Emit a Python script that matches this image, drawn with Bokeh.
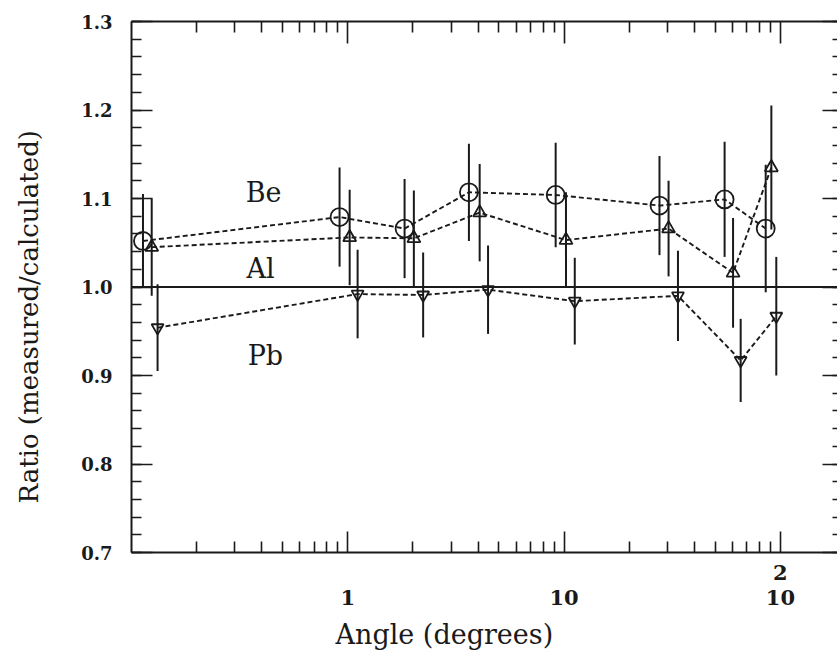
from bokeh.plotting import figure
from bokeh.models import LogAxis, LinearAxis, FixedTicker, Span, Label, Title, PrintfTickFormatter, Range1d
from bokeh.embed import file_html
from bokeh.resources import INLINE

# ---- data ----
be_x = [0.113, 0.916, 1.83, 3.63, 9.14, 27.6, 55.2, 85.5]
be_y = [1.052, 1.079, 1.066, 1.107, 1.104, 1.092, 1.099, 1.066]
be_err = [0.053, 0.056, 0.056, 0.055, 0.059, 0.056, 0.065, 0.072]

al_x = [0.124, 1.02, 2.02, 4.07, 10.2, 30.4, 60.4, 90.8]
al_y = [1.045, 1.056, 1.055, 1.084, 1.053, 1.066, 1.016, 1.135]
al_err = [0.055, 0.054, 0.054, 0.055, 0.054, 0.054, 0.062, 0.070]

pb_x = [0.132, 1.11, 2.23, 4.45, 11.2, 33.6, 65.5, 95.7]
pb_y = [0.954, 0.992, 0.991, 0.997, 0.984, 0.990, 0.917, 0.967]
pb_err = [0.049, 0.050, 0.048, 0.050, 0.049, 0.051, 0.047, 0.067]

x_major = [1, 10, 100]
x_minor = [0.2, 0.3, 0.4, 0.5, 0.6, 0.7, 0.8, 0.9,
           2, 3, 4, 5, 6, 7, 8, 9,
           20, 30, 40, 50, 60, 70, 80, 90]
# first line holds the exponent of 10^2, as in the original
x_labels = {1: " \n1", 10: " \n10", 100: "2\n10"}
y_major = [0.7, 0.8, 0.9, 1.0, 1.1, 1.2, 1.3]
y_minor = [round(0.7 + 0.02 * i, 2) for i in range(31)]

INK = "#1a1a1a"
FONT = "DejaVu Serif"

p = figure(x_axis_type="log", x_range=Range1d(0.1, 183.6), y_range=Range1d(0.7, 1.3),
           frame_width=706, frame_height=531,
           min_border_left=131, min_border_right=0, min_border_top=21, min_border_bottom=100,
           output_backend="svg", toolbar_location=None, background_fill_color="white",
           border_fill_color="white")
p.outline_line_color = None
p.xgrid.visible = False
p.ygrid.visible = False

def style_axis(ax, major_in, minor_in):
    ax.axis_line_color = INK
    ax.axis_line_width = 2
    ax.major_tick_line_color = INK
    ax.minor_tick_line_color = INK
    ax.major_tick_line_width = 1.6
    ax.minor_tick_line_width = 1.6
    ax.major_tick_in = major_in
    ax.major_tick_out = 0
    ax.minor_tick_in = minor_in
    ax.minor_tick_out = 0

def hide_labels(ax):
    ax.major_label_text_font_size = "1px"
    ax.major_label_text_alpha = 0
    ax.major_label_standoff = 0

# bottom axis
xa = p.xaxis[0]
xa.ticker = FixedTicker(ticks=x_major, minor_ticks=x_minor)
xa.major_label_overrides = x_labels
style_axis(xa, 21, 11)
xa.major_label_text_font = FONT
xa.major_label_text_font_size = "21px"
xa.major_label_text_font_style = "bold"
xa.major_label_text_line_height = 1.0
xa.major_label_text_color = INK
xa.major_label_standoff = 7

# left axis
ya = p.yaxis[0]
ya.ticker = FixedTicker(ticks=y_major, minor_ticks=y_minor)
ya.formatter = PrintfTickFormatter(format="%.1f")
style_axis(ya, 21, 10)
ya.major_label_text_font = FONT
ya.major_label_text_font_size = "18px"
ya.major_label_text_font_style = "bold"
ya.major_label_text_color = INK
ya.major_label_standoff = 19
# invisible spacer label, to push the rotated title out to the page edge
ya.axis_label = " "
ya.axis_label_text_font_size = "1px"
ya.axis_label_text_alpha = 0
ya.axis_label_standoff = 20

# top axis (ticks only)
ta = LogAxis(ticker=FixedTicker(ticks=x_major, minor_ticks=x_minor))
style_axis(ta, 22, 11)
hide_labels(ta)
p.add_layout(ta, "above")

# right axis (clipped in the scan: only inward ticks visible)
ra = LinearAxis(ticker=FixedTicker(ticks=y_major, minor_ticks=y_minor))
style_axis(ra, 15, 5)
ra.axis_line_color = None
hide_labels(ra)
p.add_layout(ra, "right")

# axis titles (off-centre, as in the original)
p.add_layout(Title(text="Angle (degrees)", align="left", offset=204, standoff=8,
                   text_font=FONT, text_font_size="27px", text_font_style="normal",
                   text_color=INK), "below")
p.add_layout(Title(text="Ratio (measured/calculated)", align="left", offset=49, standoff=22,
                   text_font=FONT, text_font_size="26px", text_font_style="normal",
                   text_color=INK), "left")

# Al reference line at 1.0
p.add_layout(Span(location=1.0, dimension="width", line_color=INK, line_width=2))

def series(xs, ys, errs, marker, size):
    lo = [y - e for y, e in zip(ys, errs)]
    hi = [y + e for y, e in zip(ys, errs)]
    p.segment(x0=xs, y0=lo, x1=xs, y1=hi, line_color=INK, line_width=2)
    p.line(xs, ys, line_color=INK, line_width=1.9, line_dash="5 3")
    p.scatter(xs, ys, marker=marker, size=size, fill_color=None, line_color=INK, line_width=1.8)

series(be_x, be_y, be_err, "circle", 18)
series(al_x, al_y, al_err, "triangle", 13)
series(pb_x, pb_y, pb_err, "inverted_triangle", 12)

# element labels
for txt, lx, ly in [("Be", 0.408, 1.1068), ("Al", 0.395, 1.0209), ("Pb", 0.416, 0.9226)]:
    p.add_layout(Label(x=lx, y=ly, text=txt, text_font=FONT, text_font_size="27px",
                       text_color=INK, text_align="center", text_baseline="middle"))

open("out.html", "w").write(file_html(p, INLINE))
